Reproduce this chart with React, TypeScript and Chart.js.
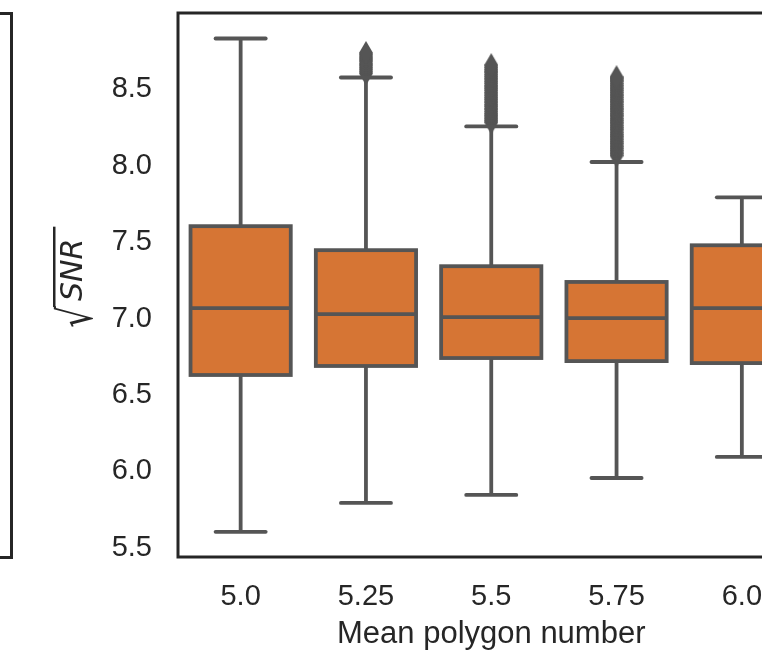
import { useEffect, useRef } from "react";
import { Chart, registerables } from "chart.js";

Chart.register(...registerables);

// ---- data ----
const categories = ["5.0", "5.25", "5.5", "5.75", "6.0"];
const whiskerLow = [5.605, 5.794, 5.846, 5.957, 6.095];
const q1 = [6.631, 6.69, 6.742, 6.722, 6.709];
const median = [7.069, 7.029, 7.01, 7.003, 7.069];
const q3 = [7.605, 7.448, 7.343, 7.24, 7.48];
const whiskerHigh = [8.833, 8.578, 8.258, 8.025, 7.794];
const outliers525 = [8.605, 8.618, 8.632, 8.645, 8.659, 8.671, 8.686, 8.699, 8.712, 8.726, 8.739];
const outliers55 = [
  8.285, 8.298, 8.312, 8.327, 8.341, 8.356, 8.372, 8.388, 8.401, 8.417, 8.433, 8.447, 8.462, 8.478,
  8.494, 8.508, 8.523, 8.539, 8.553, 8.569, 8.584, 8.598, 8.614, 8.629, 8.644, 8.659,
];
const outliers575 = [
  8.068, 8.083, 8.099, 8.114, 8.128, 8.145, 8.159, 8.174, 8.19, 8.204, 8.219, 8.236, 8.25, 8.265,
  8.281, 8.296, 8.31, 8.327, 8.341, 8.357, 8.372, 8.387, 8.402, 8.418, 8.433, 8.448, 8.463, 8.479,
  8.494, 8.508, 8.524, 8.539, 8.555, 8.569, 8.58,
];
const yTicks = [5.5, 6.0, 6.5, 7.0, 7.5, 8.0, 8.5];
const yMin = 5.44;
const yMax = 9.0;
const xTitle = "Mean polygon number";
const yTitleRadical = "√";
const yTitleText = "SNR";

// ---- style ----
const BOX = "#D67534";
const EDGE = "#555555";
const FRAME = "#262626";
const TEXT = "#262626";
const FONT = "'Liberation Sans', Arial, sans-serif";

function makeDiamond(): HTMLCanvasElement {
  const c = document.createElement("canvas");
  c.width = 14;
  c.height = 24;
  const g = c.getContext("2d")!;
  g.fillStyle = EDGE;
  g.beginPath();
  g.moveTo(7, 0);
  g.lineTo(14, 12);
  g.lineTo(7, 24);
  g.lineTo(0, 12);
  g.closePath();
  g.fill();
  return c;
}

const zeroPad = (s: any) => {
  s.paddingTop = 0;
  s.paddingBottom = 0;
  s.paddingLeft = 0;
  s.paddingRight = 0;
};

const boxPlugin = {
  id: "boxParts",
  afterDatasetsDraw(chart: any) {
    const { ctx } = chart;
    const x = chart.scales.x;
    const y = chart.scales.y;
    const cw = x.getPixelForValue(1) - x.getPixelForValue(0);
    const half = cw * 0.4;
    const capHalf = cw * 0.2;
    ctx.save();
    ctx.strokeStyle = EDGE;
    ctx.lineWidth = 3.8;
    const line = (x1: number, y1: number, x2: number, y2: number) => {
      ctx.beginPath();
      ctx.moveTo(x1, y1);
      ctx.lineTo(x2, y2);
      ctx.stroke();
    };
    categories.forEach((_, i) => {
      const cx = x.getPixelForValue(i);
      const pLo = y.getPixelForValue(whiskerLow[i]);
      const pQ1 = y.getPixelForValue(q1[i]);
      const pMed = y.getPixelForValue(median[i]);
      const pQ3 = y.getPixelForValue(q3[i]);
      const pHi = y.getPixelForValue(whiskerHigh[i]);
      ctx.lineCap = "butt";
      line(cx, pQ3, cx, pHi);
      line(cx, pQ1, cx, pLo);
      ctx.lineCap = "round";
      line(cx - capHalf, pHi, cx + capHalf, pHi);
      line(cx - capHalf, pLo, cx + capHalf, pLo);
      ctx.lineCap = "butt";
      ctx.lineJoin = "miter";
      ctx.strokeRect(cx - half, pQ3, 2 * half, pQ1 - pQ3);
      line(cx - half, pMed, cx + half, pMed);
    });
    ctx.restore();
  },
  afterDraw(chart: any) {
    const { ctx, chartArea } = chart;
    ctx.save();
    ctx.strokeStyle = FRAME;
    ctx.lineWidth = 3;
    ctx.strokeRect(chartArea.left, chartArea.top, chartArea.right - chartArea.left, chartArea.bottom - chartArea.top);
    ctx.restore();

    // y-axis title: sqrt(SNR)
    ctx.save();
    ctx.translate(82, 327);
    ctx.rotate(-Math.PI / 2);
    ctx.fillStyle = TEXT;
    ctx.textAlign = "left";
    ctx.textBaseline = "alphabetic";
    ctx.font = "100px 'DejaVu Sans'";
    const m = ctx.measureText(yTitleRadical);
    const inkL = m.actualBoundingBoxLeft;
    const inkW = m.actualBoundingBoxLeft + m.actualBoundingBoxRight;
    const inkH = m.actualBoundingBoxAscent + m.actualBoundingBoxDescent;
    const radW = 21;
    const radTop = -29;
    const radBottom = 11;
    ctx.save();
    ctx.translate(0, radTop);
    ctx.scale(radW / inkW, (radBottom - radTop) / inkH);
    ctx.fillText(yTitleRadical, inkL, m.actualBoundingBoxAscent);
    ctx.restore();
    ctx.font = "italic 30px 'DejaVu Sans'";
    const snrW = ctx.measureText(yTitleText).width;
    ctx.fillText(yTitleText, 26, 0);
    ctx.strokeStyle = TEXT;
    ctx.lineWidth = 2.5;
    ctx.beginPath();
    ctx.moveTo(radW - 1, radTop + 1.25);
    ctx.lineTo(26 + snrW + 12, radTop + 1.25);
    ctx.stroke();
    ctx.restore();
  },
};

export default function App() {
  const ref = useRef<HTMLCanvasElement>(null);
  useEffect(() => {
    const canvas = ref.current!;
    const diamond = makeDiamond();
    const outlierData = [
      ...outliers525.map((v) => ({ x: categories[1], y: v })),
      ...outliers55.map((v) => ({ x: categories[2], y: v })),
      ...outliers575.map((v) => ({ x: categories[3], y: v })),
    ];
    const chart = new Chart(canvas, {
      type: "bar",
      data: {
        labels: categories,
        datasets: [
          {
            type: "line",
            label: "outliers",
            data: outlierData as any,
            showLine: false,
            pointStyle: diamond as any,
            pointRadius: 7,
            pointHoverRadius: 7,
          } as any,
          {
            type: "bar",
            label: "IQR",
            data: categories.map((_, i) => [q1[i], q3[i]]) as any,
            backgroundColor: BOX,
            borderWidth: 0,
            barPercentage: 0.8,
            categoryPercentage: 1.0,
          },
        ],
      },
      options: {
        responsive: false,
        animation: false,
        devicePixelRatio: 1,
        layout: { padding: { left: 0, right: 25.5, top: 13, bottom: 0 } },
        plugins: { legend: { display: false }, tooltip: { enabled: false } },
        scales: {
          x: {
            type: "category",
            offset: true,
            grid: { display: false, drawTicks: false, tickLength: 0 },
            border: { display: false },
            ticks: { color: TEXT, font: { family: FONT, size: 29 }, padding: 23 },
            title: {
              display: true,
              text: xTitle,
              color: TEXT,
              font: { family: FONT, size: 31 },
              padding: { top: 0, bottom: 2 },
            },
            afterFit: (s: any) => {
              s.height = 98;
              zeroPad(s);
            },
          },
          y: {
            type: "linear",
            min: yMin,
            max: yMax,
            grid: { display: false, drawTicks: false, tickLength: 0 },
            border: { display: false },
            ticks: {
              color: TEXT,
              font: { family: FONT, size: 29 },
              padding: 26,
              callback: (v: any) => Number(v).toFixed(1),
            },
            afterBuildTicks: (s: any) => {
              s.ticks = yTicks.map((v) => ({ value: v }));
            },
            afterFit: (s: any) => {
              s.width = 178;
              zeroPad(s);
            },
          },
        },
      },
      plugins: [boxPlugin],
    });
    return () => chart.destroy();
  }, []);

  return (
    <div style={{ position: "fixed", left: 0, top: 0, width: 762, height: 655, overflow: "hidden", background: "#fff" }}>
      <div
        style={{
          position: "absolute",
          left: -20,
          top: 11.5,
          width: 32.5,
          height: 547,
          boxSizing: "border-box",
          border: `3px solid ${FRAME}`,
        }}
      />
      <canvas ref={ref} width={830} height={655} style={{ position: "absolute", left: 0, top: 0, width: 830, height: 655 }} />
    </div>
  );
}
